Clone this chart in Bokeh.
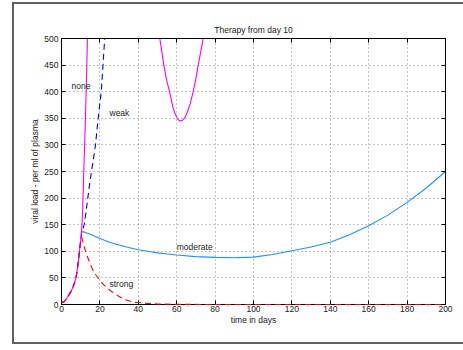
from bokeh.plotting import figure
from bokeh.models import LinearAxis, FixedTicker, CustomJSTickFormatter
from bokeh.core.properties import value
from bokeh.embed import file_html
from bokeh.resources import INLINE

FONT = "Liberation Sans"

title_text = "Therapy from day 10"
x_label = "time in days"
y_label = "viral load - per ml of plasma"
x_ticks = [0, 20, 40, 60, 80, 100, 120, 140, 160, 180, 200]
y_ticks = [0, 50, 100, 150, 200, 250, 300, 350, 400, 450, 500]

# shared growth phase before therapy (day 0..10)
t_early = [0, 0.5, 1, 2, 3, 4, 5, 6, 7, 7.5, 8, 8.5, 9, 9.5, 10]
v_early = [5, 4, 4, 8, 13, 19, 25, 33, 43, 50, 60, 73, 88, 105, 120]

# no therapy: two visible pieces (goes off scale between them)
t_none_a = [10.5, 11, 11.6, 12.3, 13, 13.5, 13.8]
v_none_a = [140, 175, 250, 330, 420, 500, 560]
t_none_b = [50.6, 51.2, 52, 53.3, 54.5, 55, 56.3, 58, 59, 60.3, 61, 62, 63, 64.1, 65, 66, 67, 68.6, 70, 71.2, 72.5, 73.8, 74.4]
v_none_b = [530, 500, 481, 450, 426, 418, 400, 371, 360, 350, 347, 345, 346.5, 350, 357, 366, 377, 400, 425, 450, 475, 500, 515]

t_weak = [10.5, 11, 11.8, 12.8, 13.7, 14.6, 15.6, 16.7, 17.7, 18.4, 19.1, 19.9, 20.7, 21.6, 22.5, 22.9]
v_weak = [136, 140, 150, 175, 200, 225, 250, 275, 300, 325, 350, 375, 400, 450, 500, 520]

t_mod = [10.5, 12, 15, 20, 25, 30, 35, 40, 45, 50, 55, 60, 70, 80, 90, 100, 110, 120, 130, 140, 150, 160, 170, 180, 190, 200]
v_mod = [137, 136, 132, 124, 117, 112, 107, 103, 100, 97, 95, 93, 90, 88.5, 88, 89, 94, 101, 108, 117, 131, 148, 168, 192, 219, 250]

t_strong = [10.5, 11, 12, 13, 14, 16, 18, 20, 22, 25.5, 28, 30, 33, 36, 39, 45, 50, 60, 80, 120, 160, 200]
v_strong = [126, 120, 106, 95, 85, 67, 55, 45, 37, 26, 20, 15, 9, 6, 4, 2, 1, 0.3, 0, 0, 0, 0]

label_names = ["none", "weak", "moderate", "strong"]
label_t = [5.2, 25, 60, 25]
label_v = [410, 360, 108, 38]

nan = float("nan")
t_none = t_early + t_none_a + [nan] + t_none_b
v_none = v_early + v_none_a + [nan] + v_none_b

p = figure(width=463, height=350, x_range=(0, 200), y_range=(0, 500),
           output_backend="svg", toolbar_location=None,
           min_border_left=61, min_border_right=18, min_border_top=38, min_border_bottom=46,
           background_fill_color="white", border_fill_color=None)

# outer grey figure box (left/top/bottom edges visible, right edge outside window)
line = "linear-gradient(#606060,#606060)"
p.styles = {
    "background": (f"{line} 13px 2px / 520px 2px no-repeat, "
                   f"{line} 12px 2px / 2px 342px no-repeat, "
                   f"{line} 12px 342px / 520px 2px no-repeat, white"),
}

p.outline_line_color = "black"
p.outline_line_width = 1

tick_x = FixedTicker(ticks=x_ticks)
tick_y = FixedTicker(ticks=y_ticks)

for ax, tk in ((p.xaxis[0], tick_x), (p.yaxis[0], tick_y)):
    ax.ticker = tk
    ax.major_tick_in = 4
    ax.major_tick_out = 0
    ax.minor_tick_line_color = None
    ax.axis_line_color = "black"
    ax.major_tick_line_color = "black"
    ax.major_label_text_font = FONT
    ax.major_label_text_font_size = "8.5px"
    ax.major_label_text_color = "#222222"
    ax.axis_label_text_font = FONT
    ax.axis_label_text_font_size = "8.5px"
    ax.axis_label_text_font_style = "normal"
    ax.axis_label_text_color = "#222222"

p.xaxis[0].major_label_standoff = 1
p.yaxis[0].major_label_standoff = 3
p.xaxis[0].axis_label = x_label
p.yaxis[0].axis_label = y_label
p.xaxis[0].axis_label_standoff = 0
p.yaxis[0].axis_label_standoff = 1

empty = CustomJSTickFormatter(code="return ''")
top = LinearAxis(ticker=tick_x, formatter=empty, major_tick_in=4, major_tick_out=0,
                 minor_tick_line_color=None, major_label_standoff=0,
                 major_label_text_font_size="1px")
right = LinearAxis(ticker=tick_y, formatter=empty, major_tick_in=4, major_tick_out=0,
                   minor_tick_line_color=None, major_label_standoff=0,
                   major_label_text_font_size="1px")
p.add_layout(top, "above")
p.add_layout(right, "right")

for g, tk in ((p.xgrid[0], tick_x), (p.ygrid[0], tick_y)):
    g.ticker = tk
    g.grid_line_color = "#8a8a8a"
    g.grid_line_dash = "1 3"
    g.grid_line_width = 1

p.title.text = title_text
p.title.align = "center"
p.title.text_font = FONT
p.title.text_font_size = "8.5px"
p.title.text_font_style = "normal"
p.title.text_color = "#222222"
p.title.standoff = 8

p.line(t_mod, v_mod, line_color="#1e90ff", line_width=1.1)
p.line(t_early + t_weak, v_early + v_weak, line_color="#0000ff", line_width=1.1, line_dash="6 4")
p.line(t_none, v_none, line_color="#ff00ff", line_width=1.1)
rs = p.line(t_early + t_strong, v_early + v_strong, line_color="#ff0000", line_width=1.1, line_dash="6 4")
rs.level = "overlay"

p.text(x=label_t, y=label_v, text=label_names, text_font=value(FONT), text_font_size="8.5px",
       text_color="#222222", text_baseline="middle", text_align="left")

open("out.html", "w").write(file_html(p, INLINE))
